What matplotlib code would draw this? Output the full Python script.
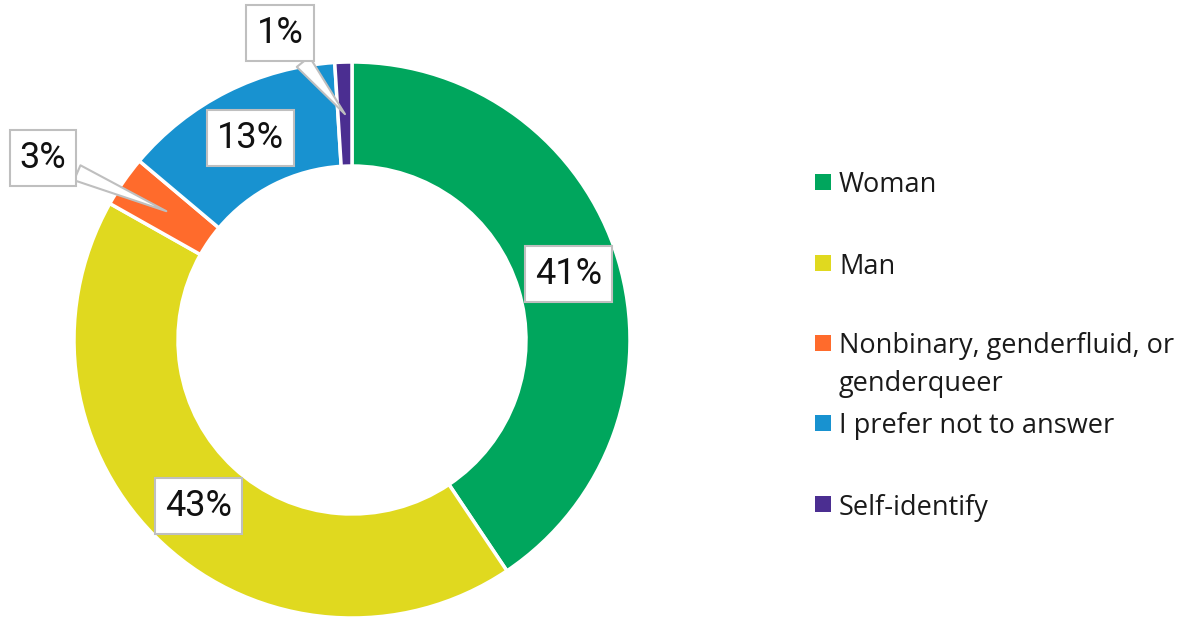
import numpy as np
import matplotlib.pyplot as plt

plt.rcParams["font.family"] = ["Roboto", "DejaVu Sans"]

categories = ["Woman", "Man", "Nonbinary, genderfluid, or\ngenderqueer",
              "I prefer not to answer", "Self-identify"]
values = [41, 43, 3, 13, 1]
colors = ["#00A65D", "#E0D91F", "#FF6B2C", "#1892D0", "#4B2E91"]

# callout positions (pixels, origin top-left) for slices too thin to hold a label
callouts = {2: (43, 158), 4: (280, 33)}

W, H = 1186, 620
fig = plt.figure(figsize=(W / 100, H / 100), dpi=100)
ax = fig.add_axes([0, 0, 1, 1])

cx, cy, r_out, ring = 352, H - 340, 278, 104
wedges, _ = ax.pie(
    values,
    colors=colors,
    startangle=90,
    counterclock=False,
    radius=r_out,
    center=(cx, cy),
    wedgeprops=dict(width=ring, edgecolor="white", linewidth=2.5),
)
ax.set_xlim(0, W)
ax.set_ylim(0, H)
ax.set_aspect("equal")
ax.axis("off")

box = dict(boxstyle="square,pad=0.28", fc="white", ec="#BFBFBF", lw=1.5)
r_lab = r_out - ring / 2
total = sum(values)
for i, w in enumerate(wedges):
    mid = np.deg2rad((w.theta1 + w.theta2) / 2)
    px, py = cx + r_lab * np.cos(mid), cy + r_lab * np.sin(mid)
    txt = f"{round(values[i] / total * 100)}%"
    if i in callouts:
        tx, ty = callouts[i]
        ax.annotate(
            txt, xy=(px, py), xytext=(tx, H - ty),
            ha="center", va="center", fontsize=26,
            color="#111111", bbox=box,
            arrowprops=dict(arrowstyle="wedge,tail_width=0.45", fc="white",
                            ec="#BFBFBF", lw=1.5, shrinkA=0, shrinkB=0),
        )
    else:
        ax.text(px, py, txt, ha="center", va="center", fontsize=26,
                color="#111111", bbox=box)

# legend
leg_y = [182, 263, 343, 423, 504]
for lab, col, y in zip(categories, colors, leg_y):
    ax.scatter(822.5, H - y, marker="s", s=120, color=col, linewidths=0)
    for j, line in enumerate(lab.split("\n")):
        ax.text(839, H - y - 37 * j, line, ha="left", va="center_baseline",
                fontsize=19.5, family=["Open Sans", "DejaVu Sans"],
                color="#1A1A1A")

fig.savefig("out.png", dpi=100)
